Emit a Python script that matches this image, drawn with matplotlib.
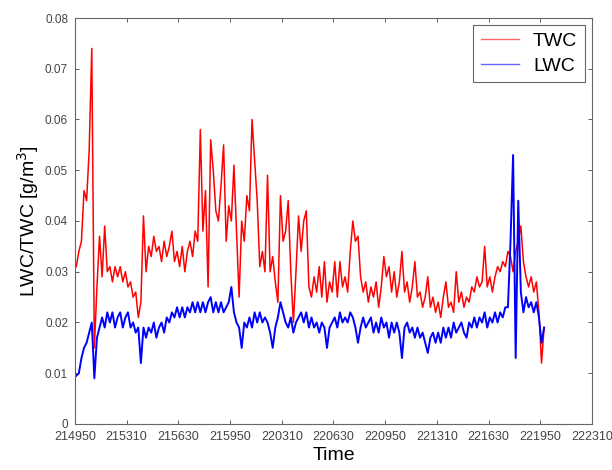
import numpy as np
import matplotlib
matplotlib.use("Agg")
import matplotlib.pyplot as plt

plt.rcParams['font.family'] = ['Liberation Sans', 'DejaVu Sans']

# sampling interval of the record (s) and time of first sample
dt_s = 10
t0_s = 5

twc = [0.031, 0.034, 0.036, 0.046, 0.044, 0.054, 0.074, 0.015, 0.027, 0.037,
       0.029, 0.039, 0.030, 0.031, 0.028, 0.031, 0.029, 0.031, 0.028, 0.030,
       0.027, 0.028, 0.025, 0.026, 0.021, 0.024, 0.041, 0.030, 0.035, 0.033,
       0.037, 0.034, 0.035, 0.032, 0.036, 0.033, 0.035, 0.038, 0.032, 0.034,
       0.031, 0.035, 0.030, 0.034, 0.036, 0.033, 0.038, 0.036, 0.058, 0.038,
       0.046, 0.027, 0.056, 0.050, 0.042, 0.040, 0.047, 0.055, 0.036, 0.043,
       0.040, 0.051, 0.038, 0.025, 0.040, 0.036, 0.045, 0.042, 0.060, 0.052,
       0.044, 0.031, 0.034, 0.030, 0.049, 0.030, 0.033, 0.028, 0.024, 0.045,
       0.036, 0.038, 0.044, 0.030, 0.020, 0.030, 0.041, 0.034, 0.040, 0.042,
       0.027, 0.025, 0.029, 0.026, 0.031, 0.025, 0.032, 0.024, 0.028, 0.026,
       0.032, 0.025, 0.032, 0.027, 0.029, 0.026, 0.034, 0.040, 0.036, 0.037,
       0.029, 0.026, 0.028, 0.024, 0.027, 0.025, 0.028, 0.023, 0.027, 0.033,
       0.029, 0.031, 0.026, 0.030, 0.025, 0.028, 0.034, 0.026, 0.028, 0.024,
       0.027, 0.032, 0.025, 0.026, 0.023, 0.025, 0.029, 0.023, 0.025, 0.022,
       0.024, 0.021, 0.025, 0.028, 0.023, 0.024, 0.022, 0.030, 0.024, 0.026,
       0.023, 0.025, 0.024, 0.027, 0.026, 0.029, 0.027, 0.028, 0.035, 0.027,
       0.029, 0.026, 0.029, 0.031, 0.030, 0.032, 0.031, 0.034, 0.033, 0.030,
       0.034, 0.036, 0.039, 0.032, 0.029, 0.027, 0.029, 0.026, 0.028, 0.022,
       0.012, 0.019]

lwc = [0.0095, 0.010, 0.013, 0.015, 0.016, 0.018, 0.020, 0.009, 0.017, 0.019,
       0.021, 0.019, 0.022, 0.020, 0.022, 0.019, 0.021, 0.022, 0.019, 0.021,
       0.022, 0.019, 0.020, 0.018, 0.019, 0.012, 0.019, 0.017, 0.019, 0.018,
       0.020, 0.017, 0.019, 0.020, 0.018, 0.021, 0.020, 0.022, 0.021, 0.023,
       0.021, 0.023, 0.021, 0.023, 0.022, 0.024, 0.022, 0.024, 0.022, 0.024,
       0.022, 0.024, 0.025, 0.022, 0.024, 0.022, 0.024, 0.022, 0.023, 0.024,
       0.027, 0.022, 0.020, 0.019, 0.015, 0.020, 0.019, 0.021, 0.019, 0.022,
       0.020, 0.022, 0.020, 0.021, 0.020, 0.018, 0.015, 0.019, 0.021, 0.024,
       0.022, 0.020, 0.019, 0.021, 0.018, 0.020, 0.021, 0.022, 0.020, 0.022,
       0.019, 0.021, 0.019, 0.020, 0.018, 0.020, 0.019, 0.015, 0.019, 0.020,
       0.021, 0.019, 0.022, 0.020, 0.021, 0.020, 0.022, 0.021, 0.019, 0.016,
       0.019, 0.021, 0.019, 0.020, 0.021, 0.018, 0.020, 0.018, 0.021, 0.019,
       0.020, 0.017, 0.020, 0.018, 0.020, 0.018, 0.013, 0.019, 0.020, 0.018,
       0.019, 0.017, 0.019, 0.017, 0.018, 0.016, 0.014, 0.017, 0.018, 0.016,
       0.018, 0.016, 0.019, 0.017, 0.019, 0.017, 0.020, 0.018, 0.019, 0.020,
       0.018, 0.017, 0.020, 0.019, 0.021, 0.019, 0.021, 0.020, 0.022, 0.019,
       0.021, 0.020, 0.022, 0.020, 0.022, 0.021, 0.023, 0.023, 0.036, 0.053,
       0.013, 0.044, 0.026, 0.022, 0.025, 0.023, 0.024, 0.022, 0.024, 0.021,
       0.016, 0.019]

tick_seconds = [0, 200, 400, 600, 800, 1000, 1200, 1400, 1600, 1800, 2000]
tick_labels = ['214950', '215310', '215630', '215950', '220310', '220630',
               '220950', '221310', '221630', '221950', '222310']
y_ticks = [0, 0.01, 0.02, 0.03, 0.04, 0.05, 0.06, 0.07, 0.08]
y_tick_labels = ['0', '0.01', '0.02', '0.03', '0.04', '0.05', '0.06', '0.07', '0.08']

t_twc = t0_s + dt_s * np.arange(len(twc))
t_lwc = t0_s + dt_s * np.arange(len(lwc))

fig = plt.figure(figsize=(6.12, 4.70), dpi=100)
ax = fig.add_axes([0.1225, 0.0979, 0.8447, 0.8638])

ax.plot(t_twc, twc, color='#ff0000', lw=1.1, label='TWC')
ax.plot(t_lwc, lwc, color='#0000ff', lw=1.4, label='LWC')

ax.set_xlim(0, 2000)
ax.set_ylim(0, 0.08)
ax.set_xticks(tick_seconds)
ax.set_xticklabels(tick_labels, fontsize=9)
ax.set_yticks(y_ticks)
ax.set_yticklabels(y_tick_labels, fontsize=8.5)
ax.tick_params(direction='in', top=True, right=True,
               colors='#444444', length=3, width=0.6)
ax.tick_params(axis='y', pad=5)
ax.tick_params(axis='x', pad=5)
for s in ax.spines.values():
    s.set_color('#666666')
    s.set_linewidth(0.8)

ax.set_xlabel('Time', fontsize=14, labelpad=3)
ax.set_ylabel('LWC/TWC [g/m$^3$]', fontsize=14, labelpad=3)

leg = ax.legend(loc='upper right', fontsize=14, fancybox=False,
                edgecolor='#666666', framealpha=1, handlelength=2.0,
                borderaxespad=0.35, borderpad=0.4, labelspacing=0.35,
                handletextpad=0.7)
leg.get_frame().set_linewidth(0.8)
for line in leg.get_lines():
    line.set_linewidth(1.0)
    line.set_alpha(0.6)

fig.savefig('out.png', dpi=100)
